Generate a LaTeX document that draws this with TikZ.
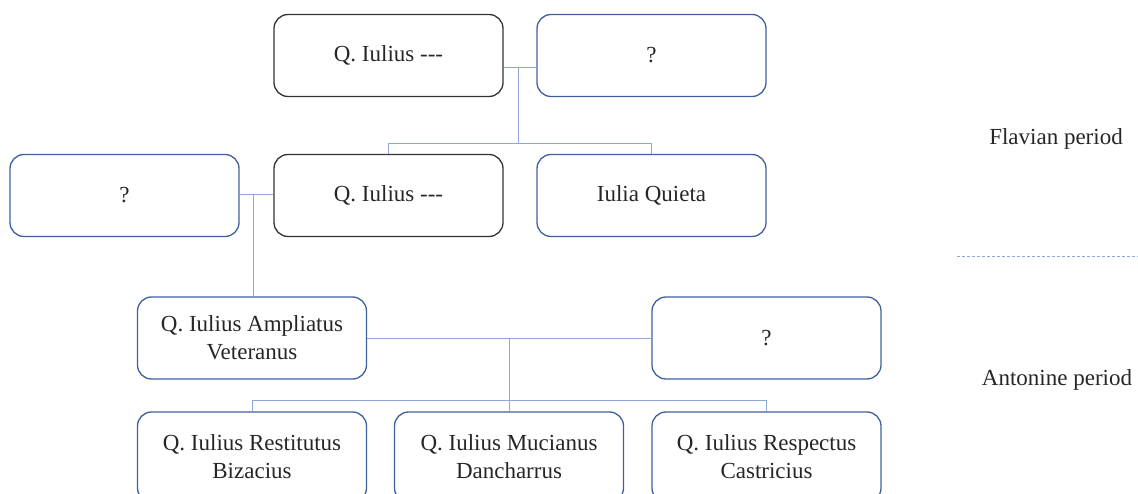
\documentclass[tikz,border=0pt]{standalone}
\usepackage{fontspec}
\setmainfont{Liberation Serif}
\definecolor{boxblue}{HTML}{3F5F9F}
\definecolor{linkblue}{HTML}{8EA6DA}
\definecolor{boxdark}{HTML}{333333}
\definecolor{txt}{HTML}{262626}
\begin{document}
\begin{tikzpicture}[x=1pt,y=-1pt,
  person/.style={draw=boxblue,line width=1.3pt,rounded corners=14pt,minimum width=229pt,minimum height=82pt,align=center,font=\fontsize{23}{28}\selectfont,text=txt,inner sep=0pt},
  darkp/.style={person,draw=boxdark},
  link/.style={draw=linkblue,line width=0.9pt},
  period/.style={font=\fontsize{23}{27}\selectfont,text=txt}]
\useasboundingbox (0,0) rectangle (1138,494);
\clip (0,0) rectangle (1138,494);
% row 1
\node[darkp] (a) at (388.5,55.5) {Q. Iulius -{}-{}-};
\node[person] (b) at (651.5,55.5) {?};
% row 2
\node[person] (c) at (124.5,195.5) {?};
\node[darkp] (d) at (388.5,195.5) {Q. Iulius -{}-{}-};
\node[person] (e) at (651.5,195.5) {Iulia Quieta};
% row 3
\node[person] (f) at (252,338) {Q. Iulius Ampliatus\\Veteranus};
\node[person] (g) at (766.5,338) {?};
% row 4
\node[person,minimum height=90pt] (h) at (252,457) {Q. Iulius Restitutus\\Bizacius};
\node[person,minimum height=90pt] (i) at (509,457) {Q. Iulius Mucianus\\Dancharrus};
\node[person,minimum height=90pt] (j) at (766.5,457) {Q. Iulius Respectus\\Castricius};
% connectors
\coordinate (m1) at (518,67);
\coordinate (m1b) at (518,143);
\draw[link] (a.east |- m1) -- (b.west |- m1);
\draw[link] (m1) -- (m1b);
\draw[link] (d.north) -- (d.north |- m1b) -- (e.north |- m1b) -- (e.north);
\coordinate (m2) at (253,194);
\draw[link] (c.east |- m2) -- (d.west |- m2);
\draw[link] (m2) -- (m2 |- f.north);
\coordinate (m3) at (509,338);
\coordinate (m3b) at (509,400);
\draw[link] (f.east |- m3) -- (g.west |- m3);
\draw[link] (m3) -- (i.north);
\draw[link] (h.north) -- (h.north |- m3b) -- (j.north |- m3b) -- (j.north);
% periods
\node[period] (p1) at (1056,139) {Flavian period};
\node[period] (p2) at (1057,380) {Antonine period};
\coordinate (s1) at (957,256);
\coordinate (s2) at (1138,256);
\draw[linkblue,line width=0.8pt,dash pattern=on 3pt off 2pt] (s1) -- (s2);
\end{tikzpicture}
\end{document}
